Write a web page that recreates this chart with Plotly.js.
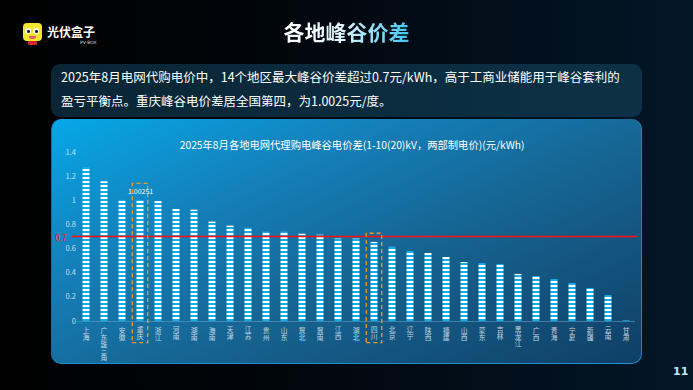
<!DOCTYPE html>
<html><head><meta charset="utf-8">
<script src="https://cdn.plot.ly/plotly-3.0.1.min.js"></script>
<style>
html,body{margin:0;padding:0;width:693px;height:390px;overflow:hidden;background:#000;}
#page{position:relative;width:693px;height:390px;background:linear-gradient(90deg,#000 0%,#01060b 40%,#031628 100%);font-family:"Noto Sans CJK SC","Noto Sans",sans-serif;}
.title{position:absolute;left:0;width:693px;top:16px;text-align:center;font-size:21px;font-weight:bold;line-height:30px;}
.title span{background:linear-gradient(90deg,#ffffff 0%,#e0f6ff 45%,#3cc4f0 100%);-webkit-background-clip:text;background-clip:text;color:transparent;}
.logo{position:absolute;left:23px;top:23px;width:19px;height:18px;background:#f6e52f;border-radius:4px;}
.eye{position:absolute;top:5px;width:6px;height:6px;border-radius:50%;background:#fff;}
.eye i{position:absolute;left:2px;top:2px;width:2.5px;height:2.5px;border-radius:50%;background:#222;}
.mouth{position:absolute;left:6px;top:13px;width:7px;height:3px;border-radius:0 0 4px 4px;background:#e85a6a;}
.base{position:absolute;left:28px;top:41px;width:9px;height:4px;background:#d9262c;border-radius:1px;}
.brand{position:absolute;left:47px;top:24px;font-size:12px;font-weight:bold;color:#fff;line-height:16px;letter-spacing:0px;}
.brand2{position:absolute;left:80px;top:40px;font-size:4.5px;color:#ddd;font-family:"DejaVu Sans",sans-serif;}
.textbox{position:absolute;left:51px;top:64px;width:581px;height:52px;padding:1px 0 0 10px;border-radius:9px;background:linear-gradient(90deg,#0a2535,#0c3146);color:#fff;font-size:12.5px;line-height:24px;white-space:nowrap;}
.panel{position:absolute;left:51px;top:119px;width:589px;height:244px;border-radius:10px;background:linear-gradient(155deg,#06a8e8 0%,#1480ba 30%,#16628f 60%,#0f3f66 100%);border-right:1.5px solid #1d88c8;border-bottom:1.5px solid #1d8ed0;border-left:1px solid #1f6aa0;}
.pnum{position:absolute;left:673px;top:365px;font-size:11px;font-weight:bold;color:#bfe9f8;font-family:"DejaVu Sans",sans-serif;}
#chart{position:absolute;left:0;top:0;width:693px;height:390px;}
</style></head>
<body><div id="page">
<div class="logo"><div class="eye" style="left:2px"><i></i></div><div class="eye" style="left:10px"><i></i></div><div class="mouth"></div></div>
<div class="base"></div>
<div class="brand">光伏盒子</div>
<div class="brand2">PV·BOX</div>
<div class="title"><span>各地峰谷价差</span></div>
<div class="textbox">2025年8月电网代购电价中，14个地区最大峰谷价差超过0.7元/kWh，高于工商业储能用于峰谷套利的<br>盈亏平衡点。重庆峰谷电价差居全国第四，为1.0025元/度。</div>
<div class="panel"></div>
<div id="chart"></div>
<div class="pnum">11</div>
</div>
<script>
var regions = ['上海','广东珠三角','安徽','重庆','浙江','河南','湖南','海南','天津','江苏','贵州','山东','冀北','冀南','江西','湖北','四川','北京','辽宁','陕西','福建','山西','蒙东','吉林','黑龙江','广西','青海','宁夏','新疆','云南','甘肃'];
var spread = [1.276,1.157,1.004,1.0025,0.994,0.928,0.922,0.823,0.790,0.773,0.741,0.741,0.723,0.715,0.683,0.683,0.655,0.614,0.580,0.563,0.530,0.489,0.480,0.472,0.390,0.373,0.348,0.315,0.273,0.215,0.006];
var threshold = 0.7;
var thresholdLabel = '0.7';
var yTicks = [0,0.2,0.4,0.6,0.8,1,1.2,1.4];
var highlightRegions = ['重庆','四川'];
var highlightTops = [1.14,0.727];
var chongqingLabel = '1.00251';
var chartTitle = '2025年8月各地电网代理购电峰谷电价差(1-10(20)kV，两部制电价)(元/kWh)';

var trace = {
  type:'bar', x:regions, y:spread, hoverinfo:'skip',
  marker:{color:'#12aee8', line:{width:0},
    pattern:{shape:'-', size:4, solidity:0.5, fgcolor:'#ffffff', bgcolor:'#12aee8', fillmode:'replace'}}
};
var shapes = [{type:'line', xref:'paper', yref:'y', x0:-0.009, x1:1.0036, y0:threshold, y1:threshold, line:{color:'#ff1010', width:1.5}, layer:'above'}];
highlightRegions.forEach(function(r,k){
  var i = regions.indexOf(r);
  shapes.push({type:'rect', xref:'x', yref:'paper', x0:i-0.43, x1:i+0.43, y0:-0.128, y1:highlightTops[k]/1.4,
    line:{color:'#f39a18', width:1.3, dash:'4px,3px'}, fillcolor:'rgba(0,0,0,0)', layer:'above'});
});
var layout = {
  width:693, height:390, margin:{l:77,r:58,t:152,b:69},
  paper_bgcolor:'rgba(0,0,0,0)', plot_bgcolor:'rgba(0,0,0,0)',
  font:{family:'"Noto Sans CJK SC", "Noto Sans", sans-serif', color:'#fff'},
  title:{text:chartTitle, font:{size:10.3, color:'#ffffff'}, xref:'paper', x:0.493, xanchor:'center', yref:'container', y:1-145.7/390, yanchor:'middle'},
  bargap:0.61, showlegend:false,
  xaxis:{type:'category', categoryorder:'array', categoryarray:regions, range:[-0.5,30.5], tickvals:regions,
    ticktext:regions,
    tickfont:{size:6.8, color:'rgba(225,235,245,0.85)'}, ticks:'', showgrid:false, zeroline:false,
    showline:true, linecolor:'rgba(110,160,200,0.55)', linewidth:1, fixedrange:true, tickangle:0},
  yaxis:{range:[0,1.4], tickvals:yTicks, ticktext:yTicks.map(String), tickfont:{size:7.5, color:'rgba(230,240,250,0.85)'},
    ticks:'', showgrid:false, zeroline:false, showline:false, fixedrange:true},
  shapes:shapes,
  annotations:[
    {xref:'x', yref:'y', x:regions.indexOf('重庆'), y:spread[regions.indexOf('重庆')], text:chongqingLabel, showarrow:false, yanchor:'bottom', yshift:2, font:{size:7, color:'#ffffff'}},
    {xref:'paper', yref:'y', x:-0.015, y:threshold, text:thresholdLabel, showarrow:false, xanchor:'right', yanchor:'middle', font:{size:8.5, color:'#ff2020'}}
  ]
};
Plotly.newPlot('chart',[trace],layout,{displayModeBar:false, staticPlot:true}).then(function(){
  // stack the Chinese category labels vertically (one glyph per row), as in the reference
  var labelTop = 326;
  document.querySelectorAll('#chart .xtick text').forEach(function(t){
    var r0 = t.getBoundingClientRect();
    var cx = r0.left + r0.width/2;
    t.style.writingMode = 'vertical-rl';
    t.setAttribute('text-anchor','start');
    var r1 = t.getBoundingClientRect();
    var y = parseFloat(t.getAttribute('y')) || 0;
    var x = parseFloat(t.getAttribute('x')) || 0;
    t.setAttribute('y', y + (labelTop - r1.top));
    t.setAttribute('x', x + (cx - (r1.left + r1.width/2)));
  });
});
</script>
</body></html>
